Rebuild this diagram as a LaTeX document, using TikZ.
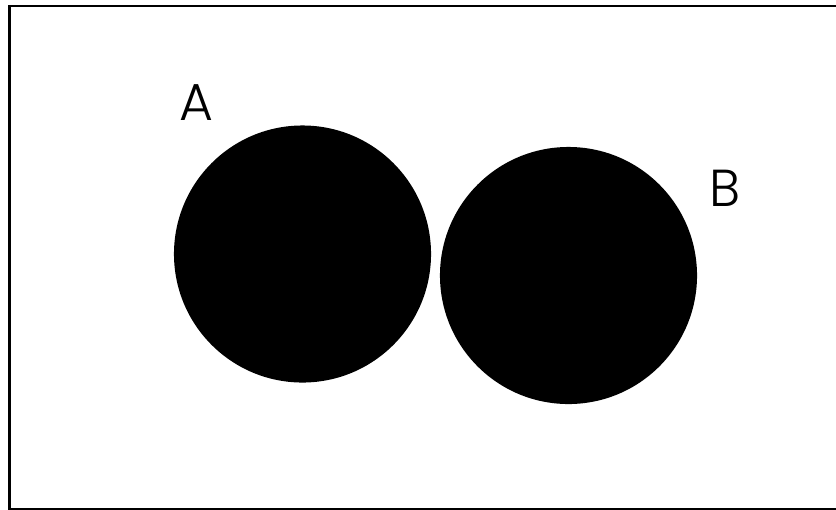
\documentclass[tikz,border=0pt]{standalone}
\usepackage{fontspec}
\setmainfont{Poppins Light}
\usetikzlibrary{positioning}

\tikzset{
 ball/.style={circle,fill=black,inner sep=0pt,minimum size=6.425cm},
 tag/.style={inner sep=0pt,font=\fontsize{37}{42}\selectfont}
}

\begin{document}
\begin{tikzpicture}[x=0.025cm,y=-0.025cm]
\useasboundingbox (0,0) rectangle (836,509);
\begin{scope}
 \clip (0,0) rectangle (836,509);
 \draw[line width=1.6pt] (9.5,6) rectangle (850,509.5);
\end{scope}
 \node[ball] (ca) at (302.5,254) {};
 \node[ball] (cb) at (568.5,275.5) {};
 \node[tag] (la) at (196,102.5) {A};
 \node[tag] (lb) at (725,188.5) {B};
\end{tikzpicture}
\end{document}
